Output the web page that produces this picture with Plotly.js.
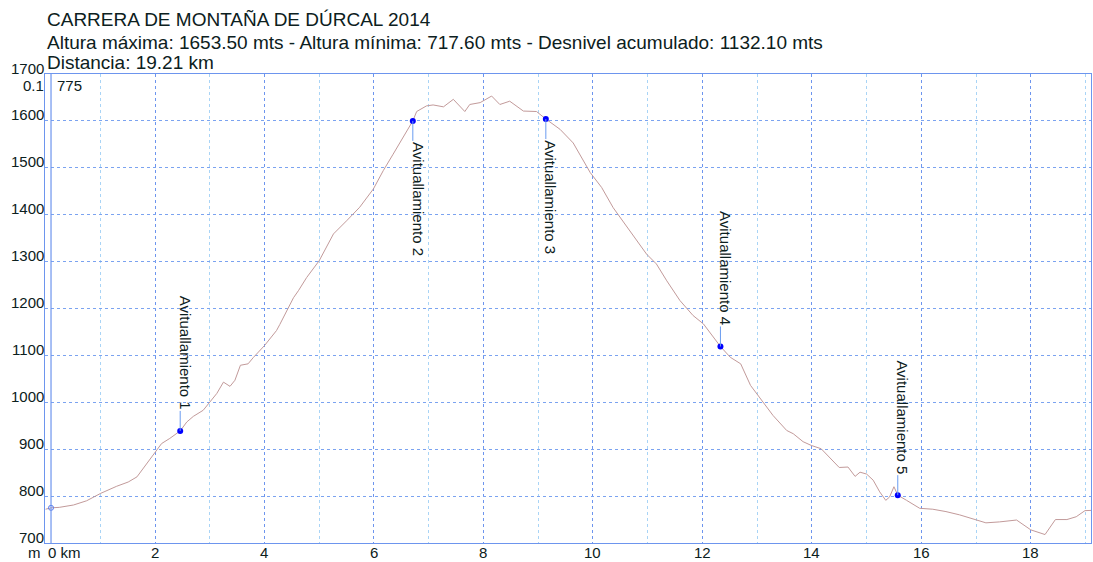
<!DOCTYPE html>
<html>
<head>
<meta charset="utf-8">
<script src="https://cdn.plot.ly/plotly-3.0.1.min.js"></script>
<style>html,body{margin:0;padding:0;background:#fff}#chart{width:1093px;height:562px}</style>
</head>
<body>
<div id="chart"></div>
<script>
// Elevation profile (km, m)
const distKm = [0, 0.1, 0.25, 0.51, 0.75, 1.01, 1.3, 1.51, 1.67, 1.85, 2.0, 2.12, 2.27, 2.46, 2.58, 2.70, 2.88, 3.0, 3.13, 3.25, 3.37, 3.46, 3.56, 3.70, 3.80, 4.0, 4.22, 4.28, 4.40, 4.53, 4.62, 4.77, 5.0, 5.26, 5.5, 5.74, 5.99, 6.17, 6.35, 6.54, 6.71, 6.78, 6.96, 7.08, 7.27, 7.45, 7.66, 7.75, 7.94, 8.15, 8.3, 8.48, 8.73, 8.97, 9.14, 9.40, 9.64, 9.95, 10.16, 10.37, 10.68, 10.98, 11.16, 11.35, 11.59, 11.83, 12.02, 12.33, 12.51, 12.7, 12.88, 13.11, 13.29, 13.54, 13.66, 13.84, 13.99, 14.17, 14.5, 14.66, 14.79, 14.88, 15.0, 15.12, 15.24, 15.35, 15.42, 15.5, 15.57, 15.73, 15.97, 16.21, 16.45, 16.7, 16.98, 17.18, 17.43, 17.74, 18.0, 18.26, 18.45, 18.66, 18.83, 18.99, 19.21];
const elevM = [772, 775, 776, 781, 790, 806, 821, 830, 841, 869, 894, 912, 923, 939, 958, 970, 983, 1001, 1019, 1043, 1034, 1047, 1079, 1082, 1096, 1121, 1153, 1166, 1192, 1223, 1238, 1266, 1302, 1359, 1387, 1416, 1455, 1494, 1529, 1565, 1600, 1620, 1632, 1634, 1630, 1646, 1620, 1635, 1639, 1653, 1635, 1642, 1621, 1620, 1604, 1582, 1553, 1490, 1458, 1415, 1366, 1316, 1295, 1259, 1217, 1185, 1167, 1119, 1096, 1082, 1036, 1000, 972, 940, 933, 916, 908, 901, 861, 862, 842, 851, 847, 834, 809, 791, 798, 820, 802, 791, 774, 772, 767, 760, 750, 743, 745, 749, 728, 718, 750, 750, 756, 769, 770];

// Aid stations
const avitKm = [2.46, 6.71, 9.14, 12.33, 15.57];
const avitM = [939, 1600, 1604, 1119, 802];
const avitLabels = ['Avituallamiento 1', 'Avituallamiento 2', 'Avituallamiento 3', 'Avituallamiento 4', 'Avituallamiento 5'];
const avitUp = [true, false, false, true, true];

// Cursor
const cursorKm = 0.1;
const cursorM = 775;

// Ticks
const yTicks = [700, 800, 900, 1000, 1100, 1200, 1300, 1400, 1500, 1600, 1700];
const xTicks = [2, 4, 6, 8, 10, 12, 14, 16, 18];
const xTickLabels = ['2', '4', '6', '8', '10', '12', '14', '16', '18'];

const titleLines = [
  'CARRERA DE MONTAÑA DE DÚRCAL 2014',
  'Altura máxima: 1653.50 mts - Altura mínima: 717.60 mts - Desnivel acumulado: 1132.10 mts',
  'Distancia: 19.21 km'
];

const FONT = 'Arial, "Liberation Sans", sans-serif';
const TXT = '#0c2020';
const AXIS = '#6d95ee';
const TOP = 74, BOTTOM = 543;

const traces = [
  {x: distKm, y: elevM, type: 'scatter', mode: 'lines', line: {color: '#c29a9a', width: 1}, hoverinfo: 'x+y'},
  {x: avitKm, y: avitM, type: 'scatter', mode: 'markers', marker: {color: '#0000ff', size: 6}},
  {x: [cursorKm], y: [cursorM], type: 'scatter', mode: 'markers', marker: {color: 'rgba(0,0,0,0)', size: 5, line: {color: '#5577ee', width: 1}}}
];

const shapes = [
  {type: 'line', xref: 'x', yref: 'paper', x0: cursorKm, x1: cursorKm, y0: 0, y1: 1, line: {color: AXIS, width: 1.2}}
];
const annotations = [];
const titleY = [19, 42, 63];
titleLines.forEach((t, i) => {
  annotations.push({xref: 'paper', yref: 'paper', x: 0, y: (BOTTOM - titleY[i]) / (BOTTOM - TOP), xanchor: 'left', yanchor: 'middle', xshift: 0, showarrow: false, text: t, font: {family: FONT, size: 19, color: TXT}});
});
avitKm.forEach((k, i) => {
  const up = avitUp[i];
  shapes.push({type: 'line', xref: 'x', yref: 'y', xsizemode: 'scaled', ysizemode: 'pixel', yanchor: avitM[i], x0: k, x1: k, y0: 0, y1: up ? 20 : -20, line: {color: '#6a9cf0', width: 1}});
  annotations.push({xref: 'x', yref: 'y', x: k, y: avitM[i], showarrow: false, textangle: 90, xshift: 5, yshift: up ? 78 : -78, text: avitLabels[i], font: {family: FONT, size: 15, color: TXT}});
});
// y tick labels
yTicks.forEach(v => {
  annotations.push({xref: 'paper', yref: 'y', x: 0, y: v, xanchor: 'right', yanchor: 'middle', xshift: 1, yshift: 6, showarrow: false, text: String(v), font: {family: FONT, size: 15, color: TXT}});
});
// x tick labels
xTicks.forEach((v, i) => {
  annotations.push({xref: 'x', yref: 'paper', x: v, y: 0, xanchor: 'center', yanchor: 'middle', yshift: -9, showarrow: false, text: xTickLabels[i], font: {family: FONT, size: 15, color: TXT}});
});
// cursor labels and axis units
annotations.push({xref: 'x', yref: 'paper', x: cursorKm, y: 1, xanchor: 'right', yanchor: 'middle', xshift: -5, yshift: -11, showarrow: false, text: '0.1', font: {family: FONT, size: 15, color: TXT}});
annotations.push({xref: 'x', yref: 'paper', x: cursorKm, y: 1, xanchor: 'left', yanchor: 'middle', xshift: 4, yshift: -11, showarrow: false, text: '775', font: {family: FONT, size: 15, color: TXT}});
annotations.push({xref: 'paper', yref: 'paper', x: 0, y: 0, xanchor: 'right', yanchor: 'middle', xshift: -2, yshift: -9, showarrow: false, text: 'm', font: {family: FONT, size: 15, color: TXT}});
annotations.push({xref: 'x', yref: 'paper', x: 0, y: 0, xanchor: 'left', yanchor: 'middle', xshift: 0, yshift: -9, showarrow: false, text: '0 km', font: {family: FONT, size: 15, color: TXT}});

const layout = {
  width: 1093, height: 562,
  margin: {l: 45, r: 2, t: TOP, b: 562 - BOTTOM, pad: 0},
  paper_bgcolor: '#fff', plot_bgcolor: '#fff',
  showlegend: false,
  font: {family: FONT, size: 15, color: TXT},
  xaxis: {
    range: [-0.01, 19.1], tickvals: xTicks, showticklabels: false, ticks: '',
    showgrid: true, gridcolor: '#6d95ee', griddash: 'dot', gridwidth: 1,
    minor: {dtick: 1, tick0: 1, showgrid: true, gridcolor: '#a9d4f6', griddash: 'dot', gridwidth: 1, ticks: ''},
    showline: true, linecolor: AXIS, linewidth: 1, mirror: true, zeroline: false
  },
  yaxis: {
    range: [700, 1700], tickvals: yTicks, showticklabels: false, ticks: '',
    showgrid: true, gridcolor: '#7ba3f0', griddash: 'dot', gridwidth: 1,
    showline: true, linecolor: AXIS, linewidth: 1, mirror: true, zeroline: false
  },
  shapes: shapes,
  annotations: annotations
};

Plotly.newPlot('chart', traces, layout, {displayModeBar: false, staticPlot: true});
</script>
</body>
</html>
